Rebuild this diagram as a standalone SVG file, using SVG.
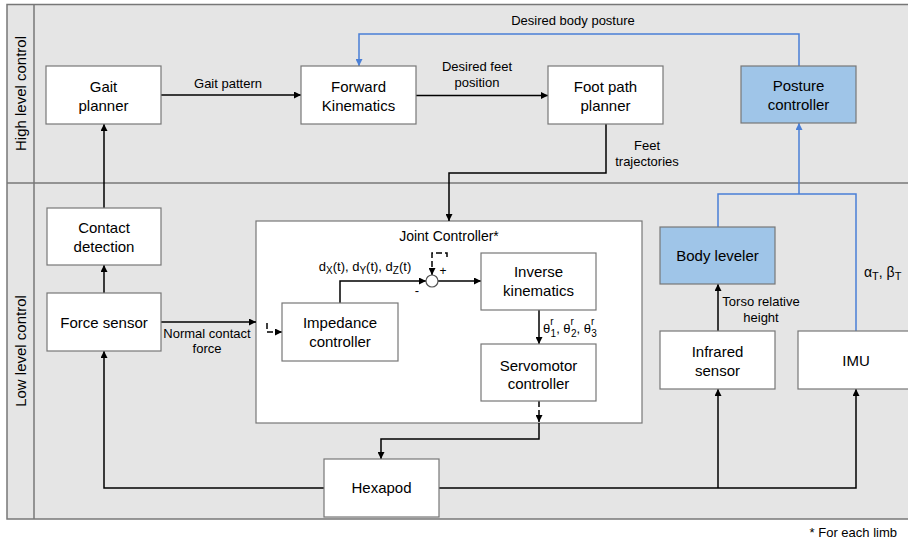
<svg xmlns="http://www.w3.org/2000/svg" width="908" height="544" viewBox="0 0 908 544">
<style>
text{font-family:"Liberation Sans",Arial,sans-serif;fill:#000}
.box{fill:#fff;stroke:#777;stroke-width:1.2}
.blue{fill:#9fc5e8;stroke:#777;stroke-width:1.2}
.n{font-size:15px;text-anchor:middle}
.e{font-size:13px;text-anchor:middle}
.c{fill:none;stroke:#000;stroke-width:1.5}
.d{fill:none;stroke:#000;stroke-width:1.5;stroke-dasharray:6,3}
.b{fill:none;stroke:#4a7fd6;stroke-width:1.5}
</style>
<defs>
<marker id="ah" viewBox="0 0 10 10" refX="10" refY="5" markerWidth="7" markerHeight="7" markerUnits="userSpaceOnUse" orient="auto"><path d="M0,0L10,5L0,10z" fill="#000"/></marker>
<marker id="ab" viewBox="0 0 10 10" refX="10" refY="5" markerWidth="7" markerHeight="7" markerUnits="userSpaceOnUse" orient="auto"><path d="M0,0L10,5L0,10z" fill="#4a7fd6"/></marker>
</defs>
<g id="lanes">
<rect x="7" y="4.5" width="905" height="514.5" fill="#e5e5e5" stroke="#777" stroke-width="1.5"/>
<line x1="34" y1="4.5" x2="34" y2="519" stroke="#777" stroke-width="1.5"/>
<line x1="7" y1="183" x2="912" y2="183" stroke="#777" stroke-width="1.5"/>
<text class="n" transform="translate(26,93.5) rotate(-90)">High level control</text>
<text class="n" transform="translate(26,351) rotate(-90)">Low level control</text>
</g>
<g id="joint-controller">
<rect class="box" x="256" y="221" width="386" height="202"/>
<text class="n" x="449" y="241" style="font-size:14px">Joint Controller*</text>
</g>
<g id="connectors">
<path class="c" d="M161,95H301" marker-end="url(#ah)"/>
<path class="c" d="M416,95.5H548" marker-end="url(#ah)"/>
<path class="c" d="M606,124V173H449V221" marker-end="url(#ah)"/>
<path class="b" d="M799,66V34H359V66" marker-end="url(#ab)"/>
<path class="c" d="M104,208V124" marker-end="url(#ah)"/>
<path class="c" d="M104,293V265" marker-end="url(#ah)"/>
<path class="c" d="M161,322H256" marker-end="url(#ah)"/>
<path class="d" d="M267,323V332H282" marker-end="url(#ah)"/>
<path class="c" d="M340,303V281H426" marker-end="url(#ah)"/>
<path class="d" d="M447,257V253H432V275" marker-end="url(#ah)"/>
<path class="c" d="M438,281H481" marker-end="url(#ah)"/>
<path class="c" d="M539,310V344" marker-end="url(#ah)"/>
<path class="d" d="M539,401V422" marker-end="url(#ah)"/>
<path class="c" d="M539,423V439H381V459" marker-end="url(#ah)"/>
<path class="c" d="M324,488H104V351" marker-end="url(#ah)"/>
<path class="c" d="M439,488H856V389" marker-end="url(#ah)"/>
<path class="c" d="M718,488V389" marker-end="url(#ah)"/>
<path class="c" d="M718,331V284" marker-end="url(#ah)"/>
<path class="b" d="M718,227V194H856V331"/>
<path class="b" d="M799,194V123" marker-end="url(#ab)"/>
<circle cx="432" cy="281" r="6" fill="#fff" stroke="#555" stroke-width="1.2"/>
<text class="e" x="228" y="88">Gait pattern</text>
<text class="e" x="477" y="71">Desired feet</text>
<text class="e" x="477" y="87">position</text>
<text class="e" x="573" y="25">Desired body posture</text>
<text class="e" x="647" y="150">Feet</text>
<text class="e" x="647" y="166">trajectories</text>
<text class="e" x="207" y="338">Normal contact</text>
<text class="e" x="207" y="353">force</text>
<text class="e" x="365" y="271">d<tspan font-size="10" dy="3">X</tspan><tspan dy="-3">(t), d</tspan><tspan font-size="10" dy="3">Y</tspan><tspan dy="-3">(t), d</tspan><tspan font-size="10" dy="3">Z</tspan><tspan dy="-3">(t)</tspan></text>
<text class="e" x="443" y="275" style="font-size:12px">+</text>
<text class="e" x="417" y="295" style="font-size:13px">-</text>
<text x="543" y="333" style="font-size:13px">θ<tspan font-size="10" dy="-8">r</tspan><tspan font-size="10" dx="-3" dy="12">1</tspan><tspan dy="-4">, θ</tspan><tspan font-size="10" dy="-8">r</tspan><tspan font-size="10" dx="-3" dy="12">2</tspan><tspan dy="-4">, θ</tspan><tspan font-size="10" dy="-8">r</tspan><tspan font-size="10" dx="-3" dy="12">3</tspan></text>
<text class="e" x="761" y="306">Torso relative</text>
<text class="e" x="761" y="322">height</text>
<text x="864" y="277" style="font-size:14px">α<tspan font-size="11" dy="3">T</tspan><tspan dy="-3">, β</tspan><tspan font-size="11" dy="3">T</tspan></text>
</g>
<g id="gait-planner"><rect class="box" x="46" y="66" width="115" height="58"/><text class="n" x="103.5" y="92">Gait</text><text class="n" x="103.5" y="111">planner</text></g>
<g id="forward-kinematics"><rect class="box" x="301" y="66" width="115" height="58"/><text class="n" x="358.5" y="92">Forward</text><text class="n" x="358.5" y="111">Kinematics</text></g>
<g id="foot-path-planner"><rect class="box" x="548" y="66" width="115" height="58"/><text class="n" x="605.5" y="92">Foot path</text><text class="n" x="605.5" y="111">planner</text></g>
<g id="posture-controller"><rect class="blue" x="741" y="66" width="115" height="57"/><text class="n" x="798.5" y="91">Posture</text><text class="n" x="798.5" y="110">controller</text></g>
<g id="contact-detection"><rect class="box" x="47" y="208" width="114" height="57"/><text class="n" x="104" y="233">Contact</text><text class="n" x="104" y="252">detection</text></g>
<g id="force-sensor"><rect class="box" x="47" y="293" width="114" height="58"/><text class="n" x="104" y="328">Force sensor</text></g>
<g id="impedance-controller"><rect class="box" x="282" y="303" width="116" height="58"/><text class="n" x="340" y="328">Impedance</text><text class="n" x="340" y="347">controller</text></g>
<g id="inverse-kinematics"><rect class="box" x="481" y="253" width="115" height="57"/><text class="n" x="538.5" y="277">Inverse</text><text class="n" x="538.5" y="296">kinematics</text></g>
<g id="servomotor-controller"><rect class="box" x="481" y="344" width="115" height="57"/><text class="n" x="538.5" y="371">Servomotor</text><text class="n" x="538.5" y="389">controller</text></g>
<g id="body-leveler"><rect class="blue" x="660" y="227" width="115" height="57"/><text class="n" x="717.5" y="261">Body leveler</text></g>
<g id="infrared-sensor"><rect class="box" x="660" y="331" width="115" height="58"/><text class="n" x="717.5" y="357">Infrared</text><text class="n" x="717.5" y="376">sensor</text></g>
<g id="imu"><rect class="box" x="798" y="331" width="116" height="58"/><text class="n" x="856" y="366">IMU</text></g>
<g id="hexapod"><rect class="box" x="324" y="459" width="115" height="58"/><text class="n" x="381.5" y="493">Hexapod</text></g>
<text x="897" y="537" style="font-size:13px;text-anchor:end">* For each limb</text>
</svg>
